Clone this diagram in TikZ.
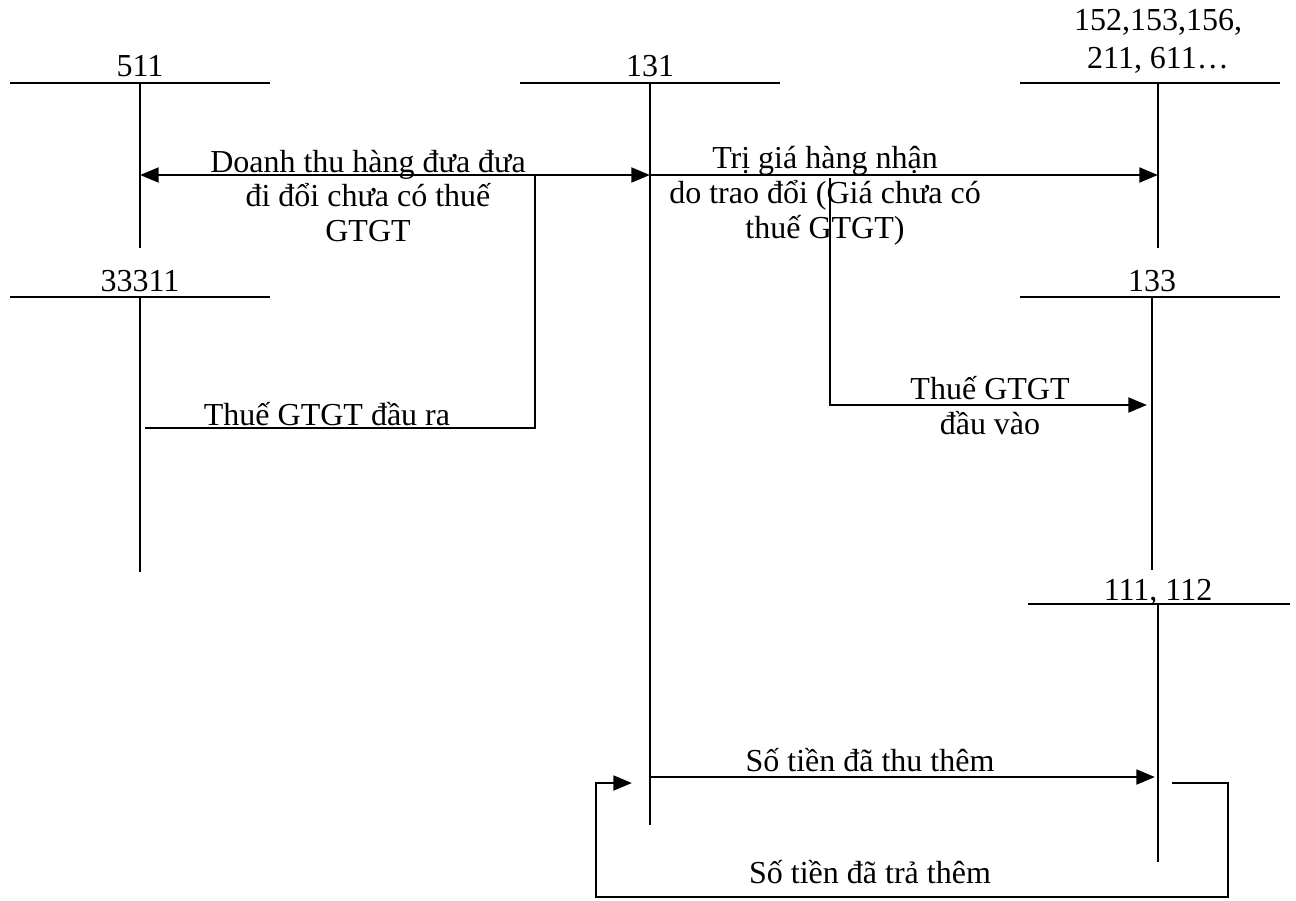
\documentclass[tikz,border=0pt]{standalone}
\usepackage{fontspec}
\setmainfont{Liberation Serif}
\usepackage{tikz}
\usetikzlibrary{arrows.meta,calc}

\begin{document}
\begin{tikzpicture}[
  x=0.375pt,y=-0.375pt,
  font=\fontsize{12pt}{13.1pt}\selectfont,
  lbl/.style={inner sep=0pt,align=center},
  acct/.style={line width=0.9pt,draw=black},
  flow/.style={line width=1.1pt,draw=black},
  arr/.style={flow,-{Triangle[length=7pt,width=5.5pt]}},
  dbl/.style={flow,{Triangle[length=7pt,width=5.5pt]}-{Triangle[length=7pt,width=5.5pt]}},
]
\useasboundingbox (0,0) rectangle (1296,900);

% T-accounts
\coordinate (t511) at (140,83);    \coordinate (b511) at (140,248);
\coordinate (t131) at (650,83);    \coordinate (b131) at (650,825);
\coordinate (t152) at (1158,83);   \coordinate (b152) at (1158,248);
\coordinate (t333) at (140,297);   \coordinate (b333) at (140,572);
\coordinate (t133) at (1152,297);  \coordinate (b133) at (1152,570);
\coordinate (t111) at (1158,604);  \coordinate (b111) at (1158,862);

\draw[acct] (10,83) -- (270,83);     \draw[acct] (t511) -- (b511);
\draw[acct] (520,83) -- (780,83);    \draw[acct] (t131) -- (b131);
\draw[acct] (1020,83) -- (1280,83);  \draw[acct] (t152) -- (b152);
\draw[acct] (10,297) -- (270,297);   \draw[acct] (t333) -- (b333);
\draw[acct] (1020,297) -- (1280,297);\draw[acct] (t133) -- (b133);
\draw[acct] (1028,604) -- (1290,604);\draw[acct] (t111) -- (b111);

\node[lbl,anchor=base] (n511) at (140,76) {511};
\node[lbl,anchor=base] (n131) at (650,76) {131};
\node[lbl,anchor=base] (n152) at (1158,68) {152,153,156,\\[1pt]211, 611…};
\node[lbl,anchor=base] (n333) at (140,291) {33311};
\node[lbl,anchor=base] (n133) at (1152,291) {133};
\node[lbl,anchor=base] (n111) at (1158,600) {111, 112};

% entries
\coordinate (j1) at (535,175);
\coordinate (j2) at (830,175);
\coordinate (k1) at (145,428);
\coordinate (k2) at (535,428);
\coordinate (k3) at (830,405);
\coordinate (k4) at (1147,405);

\draw[dbl] (t511 |- j1) -- (t131 |- j1);
\draw[flow] (k1) -- (k2) -- (j1);
\draw[arr] (t131 |- j1) -- (t152 |- j1);
\draw[arr] ($(j2)+(0,3)$) -- (k3) -- (k4);

\node[lbl] (doanhthu) at (368,196) {Doanh thu hàng đưa đưa\\đi đổi chưa có thuế\\GTGT};
\node[lbl] (trigia) at (825,196) {Trị giá hàng nhận\\do trao đổi (Giá chưa có\\thuế GTGT)};
\node[lbl,anchor=base] (thuera) at (327,425) {Thuế GTGT đầu ra};
\node[lbl] (thuevao) at (990,406) {Thuế GTGT\\đầu vào};

\coordinate (m1) at (650,777);
\coordinate (m2) at (1155,777);
\draw[arr] (m1) -- (m2);
\node[lbl,anchor=base] (thuthem) at (870,771) {Số tiền đã thu thêm};

\coordinate (r1) at (1172,783);
\coordinate (r2) at (1228,783);
\coordinate (r3) at (1228,897);
\coordinate (r4) at (596,897);
\coordinate (r5) at (596,783);
\coordinate (r6) at (632,783);
\draw[arr] (r1) -- (r2) -- (r3) -- (r4) -- (r5) -- (r6);
\node[lbl] (trathem) at (870,872) {Số tiền đã trả thêm};

\end{tikzpicture}
\end{document}
